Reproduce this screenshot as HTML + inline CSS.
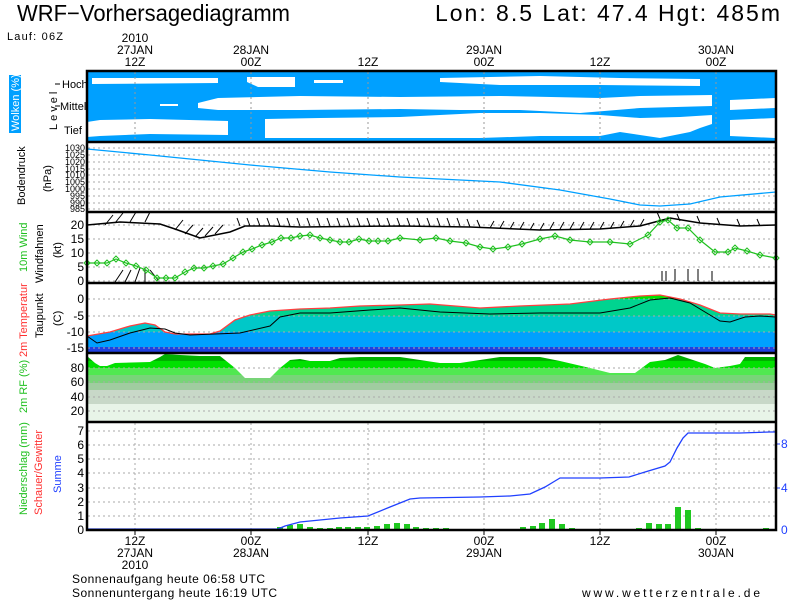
<!DOCTYPE html>
<html><head><meta charset="utf-8"><style>
html,body{margin:0;padding:0;background:#fff}
svg{display:block;font-family:"Liberation Sans",sans-serif}
</style></head><body>
<svg width="800" height="600" viewBox="0 0 800 600" xmlns="http://www.w3.org/2000/svg">
<rect width="800" height="600" fill="#fff"/>
<text x="17" y="21" font-size="23" textLength="273" lengthAdjust="spacingAndGlyphs">WRF−Vorhersagediagramm</text>
<text x="435" y="21" font-size="23" textLength="345" lengthAdjust="spacing">Lon: 8.5  Lat: 47.4  Hgt: 485m</text>
<text x="7" y="40" font-size="11" textLength="56">Lauf: 06Z</text>
<g font-size="12" text-anchor="middle">
<text x="135" y="42">2010</text><text x="135" y="54">27JAN</text><text x="135" y="66">12Z</text>
<text x="251" y="54">28JAN</text><text x="251" y="66">00Z</text>
<text x="368" y="66">12Z</text>
<text x="484" y="54">29JAN</text><text x="484" y="66">00Z</text>
<text x="600" y="66">12Z</text>
<text x="716" y="54">30JAN</text><text x="716" y="66">00Z</text>
</g>
<!-- Cloud panel -->
<rect x="87" y="71" width="689" height="70" fill="#00a0ff"/>
<g fill="#fff">
<path d="M92 78 L218 78 L218 83 L92 84Z"/>
<path d="M247 77 L295 77 L295 87 L258 87 L247 82Z"/>
<path d="M314 80 L343 80 L343 83 L314 83Z"/>
<path d="M440 78 L540 76 L620 78 L700 79 L700 86 L600 85 L500 85 L440 82Z"/>
<path d="M160 104 L178 104 L178 106 L160 106Z"/>
<path d="M198 103 L218 98 L300 96 L400 97 L500 96 L600 98 L640 96 L712 95 L712 106 L640 108 L580 113 L520 110 L460 110 L400 109 L300 110 L218 110 L198 108Z"/>
<path d="M87 122 L100 120 L150 119 L228 121 L228 135 L150 134 L100 136 L87 137Z"/>
<path d="M265 119 L320 118 L400 117 L480 113 L540 113 L600 115 L640 118 L680 117 L712 115 L712 124 L700 128 L690 132 L660 138 L620 132 L600 136 L540 136 L480 138 L400 138 L265 138Z"/>
<path d="M730 100 L775 98 L775 108 L730 110Z"/>
<path d="M730 120 L775 118 L775 138 L730 136Z"/>
</g>
<rect x="87" y="138" width="689" height="3" fill="#00a0ff"/>
<g stroke="#999" stroke-dasharray="2,3" stroke-width="1">
<line x1="135" y1="72" x2="135" y2="140"/><line x1="251" y1="72" x2="251" y2="140"/><line x1="368" y1="72" x2="368" y2="140"/><line x1="484" y1="72" x2="484" y2="140"/><line x1="600" y1="72" x2="600" y2="140"/><line x1="716" y1="72" x2="716" y2="140"/>
</g>
<rect x="9" y="75" width="12" height="58" fill="#00a0ff"/>
<text transform="translate(19,131) rotate(-90)" font-size="11" fill="#fff">Wolken (%)</text>
<text transform="translate(57,130) rotate(-90)" font-size="11" letter-spacing="3">Level</text>
<g font-size="11"><text x="62" y="88">Hoch</text><text x="60" y="110">Mittel</text><text x="64" y="134">Tief</text></g>
<g stroke="#000"><line x1="55" y1="84" x2="60" y2="84"/><line x1="55" y1="106" x2="60" y2="106"/></g>
<!-- Pressure panel -->
<g stroke="#aaa" stroke-dasharray="2,3">
<line x1="88" y1="148" x2="775" y2="148"/><line x1="88" y1="155" x2="775" y2="155"/><line x1="88" y1="162" x2="775" y2="162"/><line x1="88" y1="169" x2="775" y2="169"/><line x1="88" y1="175" x2="775" y2="175"/><line x1="88" y1="182" x2="775" y2="182"/><line x1="88" y1="189" x2="775" y2="189"/><line x1="88" y1="196" x2="775" y2="196"/><line x1="88" y1="203" x2="775" y2="203"/><line x1="88" y1="209" x2="775" y2="209"/>
</g>
<polyline fill="none" stroke="#00a0ff" stroke-width="1.3" points="87,149 150,155 250,165 330,172 400,177 500,182 560,190 610,199 640,205 660,206 690,204 720,197 776,192"/>
<g font-size="9" text-anchor="end">
<text x="85" y="151">1030</text><text x="85" y="158">1025</text><text x="85" y="165">1020</text><text x="85" y="172">1015</text><text x="85" y="178">1010</text><text x="85" y="185">1005</text><text x="85" y="192">1000</text><text x="85" y="199">995</text><text x="85" y="206">990</text><text x="85" y="212">985</text>
</g>
<text transform="translate(25,205) rotate(-90)" font-size="11">Bodendruck</text>
<text transform="translate(51,192) rotate(-90)" font-size="11">(hPa)</text>
<!-- Wind panel -->
<g stroke="#aaa" stroke-dasharray="2,3">
<line x1="88" y1="225" x2="775" y2="225"/><line x1="88" y1="239" x2="775" y2="239"/><line x1="88" y1="253" x2="775" y2="253"/><line x1="88" y1="267" x2="775" y2="267"/><line x1="88" y1="281" x2="775" y2="281"/>
</g>
<polyline fill="none" stroke="#000" stroke-width="1.5" points="87,225 120,222 160,224 175,229 200,238 230,232 245,226 270,226 300,227 400,226 470,227 540,230 600,229 640,226 655,222 670,218 700,223 740,226 776,225"/>
<g stroke="#000" stroke-width="1">
<path d="M240 226 l-3 -8 M250 226 l-3 -8 M260 226 l-3 -8 M270 226 l-3 -8 M280 226 l-3 -8 M290 226 l-3 -8 M300 226 l-3 -8 M310 226 l-3 -8 M320 226 l-3 -8 M330 226 l-3 -8 M340 226 l-3 -8 M350 226 l-3 -8 M360 226 l-3 -8 M370 226 l-3 -8 M380 226 l-3 -8 M390 226 l-3 -8 M400 226 l-3 -8 M410 226 l-3 -8 M420 226 l-3 -8 M430 226 l-3 -8 M440 226 l-3 -8 M450 226 l-3 -8 M460 226 l-3 -8 M470 227 l-3 -8 M480 227 l-3 -7 M490 228 l4 -7 M500 228 l4 -7 M510 229 l4 -7 M520 229 l4 -7 M530 230 l4 -7 M540 230 l4 -7 M550 229 l4 -7 M560 229 l4 -7 M570 229 l4 -7 M580 229 l4 -7 M590 229 l4 -7 M600 229 l4 -7 M610 229 l4 -7 M620 228 l4 -7 M630 227 l4 -7 M640 226 l4 -7 M660 219 l-3 -7 M680 221 l-3 -7 M700 223 l-3 -7 M720 225 l-3 -7 M740 226 l-3 -7 M760 226 l-3 -7"/>
<path d="M105 225 l8 -10 M115 223 l8 -10 M130 222 l6 -10 M145 222 l5 -10 M175 230 l8 -10 M185 234 l8 -9 M195 237 l8 -9 M205 236 l8 -9 M215 234 l8 -9"/>
<path d="M115 282 l8 -12 M125 282 l6 -12 M135 282 l5 -14 M145 282 l0 -14 M150 270 l8 10 M662 281 l0 -10 M666 281 l0 -10 M675 281 l0 -12 M688 281 l0 -12 M698 281 l0 -12 M712 281 l0 -10"/>
</g>
<polyline fill="none" stroke="#20c020" stroke-width="1.2" points="87,263 97,263 107,263 116,259 126,263 136,266 146,270 157,278 166,278 175,278 185,272 194,268 204,268 213,266 223,264 233,258 243,252 252,249 262,245 272,242 281,238 291,238 300,236 310,235 320,238 330,240 340,242 349,242 359,239 369,241 378,241 388,241 400,238 420,240 436,238 450,241 466,243 480,247 493,249 508,247 522,244 540,239 555,236 570,240 590,242 610,242 630,244 648,235 660,222 668,220 677,228 688,228 700,240 715,252 728,252 735,248 747,251 760,255 776,258"/>
<g fill="none" stroke="#20c020">
<path d="M87 260 l3 3 -3 3 -3 -3z M97 260 l3 3 -3 3 -3 -3z M107 260 l3 3 -3 3 -3 -3z M116 256 l3 3 -3 3 -3 -3z M126 260 l3 3 -3 3 -3 -3z M136 263 l3 3 -3 3 -3 -3z M146 267 l3 3 -3 3 -3 -3z M157 275 l3 3 -3 3 -3 -3z M166 275 l3 3 -3 3 -3 -3z M175 275 l3 3 -3 3 -3 -3z M185 269 l3 3 -3 3 -3 -3z M194 265 l3 3 -3 3 -3 -3z M204 265 l3 3 -3 3 -3 -3z M213 263 l3 3 -3 3 -3 -3z M223 261 l3 3 -3 3 -3 -3z M233 255 l3 3 -3 3 -3 -3z M243 249 l3 3 -3 3 -3 -3z M252 246 l3 3 -3 3 -3 -3z M262 242 l3 3 -3 3 -3 -3z M272 239 l3 3 -3 3 -3 -3z M281 235 l3 3 -3 3 -3 -3z M291 235 l3 3 -3 3 -3 -3z M300 233 l3 3 -3 3 -3 -3z M310 232 l3 3 -3 3 -3 -3z M320 235 l3 3 -3 3 -3 -3z M330 237 l3 3 -3 3 -3 -3z M340 239 l3 3 -3 3 -3 -3z M349 239 l3 3 -3 3 -3 -3z M359 236 l3 3 -3 3 -3 -3z M369 238 l3 3 -3 3 -3 -3z M378 238 l3 3 -3 3 -3 -3z M388 238 l3 3 -3 3 -3 -3z M400 235 l3 3 -3 3 -3 -3z"/>
<path d="M420 237 l3 3 -3 3 -3 -3z M436 235 l3 3 -3 3 -3 -3z M450 238 l3 3 -3 3 -3 -3z M466 240 l3 3 -3 3 -3 -3z M480 244 l3 3 -3 3 -3 -3z M493 246 l3 3 -3 3 -3 -3z M508 244 l3 3 -3 3 -3 -3z M522 241 l3 3 -3 3 -3 -3z M540 236 l3 3 -3 3 -3 -3z M555 233 l3 3 -3 3 -3 -3z M570 237 l3 3 -3 3 -3 -3z M590 239 l3 3 -3 3 -3 -3z M610 239 l3 3 -3 3 -3 -3z M630 241 l3 3 -3 3 -3 -3z M648 232 l3 3 -3 3 -3 -3z M660 219 l3 3 -3 3 -3 -3z M668 217 l3 3 -3 3 -3 -3z M677 225 l3 3 -3 3 -3 -3z M688 225 l3 3 -3 3 -3 -3z M700 237 l3 3 -3 3 -3 -3z M715 249 l3 3 -3 3 -3 -3z M728 249 l3 3 -3 3 -3 -3z M735 245 l3 3 -3 3 -3 -3z M747 248 l3 3 -3 3 -3 -3z M760 252 l3 3 -3 3 -3 -3z M776 255 l3 3 -3 3 -3 -3z"/>
</g>
<g font-size="12" text-anchor="end">
<text x="84" y="229">20</text><text x="84" y="243">15</text><text x="84" y="257">10</text><text x="84" y="271">5</text><text x="84" y="285">0</text>
</g>
<text transform="translate(27,272) rotate(-90)" font-size="11" fill="#20c020">10m Wind</text>
<text transform="translate(43,283) rotate(-90)" font-size="11">Windfahnen</text>
<text transform="translate(61,258) rotate(-90)" font-size="11">(kt)</text>
<!-- Temp panel -->
<defs>
<clipPath id="tc"><polygon points="87,336 110,332 130,326 145,323 155,325 165,332 175,334 210,334 220,331 235,320 250,315 270,311 300,309 330,308 360,306 400,305 430,304 480,308 520,306 570,304 610,299 640,296 660,295 680,299 700,305 720,313 740,314 770,314 776,315 776,352 87,352"/></clipPath>
<clipPath id="rc"><polygon points="87,356 95,363 100,366 107,366 115,363 150,362 160,357 165,354 180,355 200,356 220,356 235,368 245,378 270,378 280,368 290,360 300,359 310,361 330,361 340,358 360,357 390,357 400,357 420,360 440,363 460,363 480,360 500,357 540,357 560,361 590,368 610,373 635,373 650,362 665,360 678,355 690,359 705,364 715,368 730,366 740,364 745,357 776,357 776,421 87,421"/></clipPath>
</defs>
<g clip-path="url(#tc)">
<rect x="87" y="284" width="689" height="15" fill="#00e000"/>
<rect x="87" y="299" width="689" height="17" fill="#00d490"/>
<rect x="87" y="316" width="689" height="16" fill="#00c8c8"/>
<rect x="87" y="332" width="689" height="15" fill="#00a0ff"/>
<rect x="87" y="347" width="689" height="6" fill="#2040e0"/>
</g>
<g stroke="#aaa" stroke-dasharray="2,3">
<line x1="88" y1="299" x2="775" y2="299"/><line x1="88" y1="316" x2="775" y2="316"/><line x1="88" y1="332" x2="775" y2="332"/><line x1="88" y1="348" x2="775" y2="348"/>
</g>
<polyline fill="none" stroke="#ff4040" stroke-width="1.3" points="87,336 110,332 130,326 145,323 155,325 165,332 175,334 210,334 220,331 235,320 250,315 270,311 300,309 330,308 360,306 400,305 430,304 480,308 520,306 570,304 610,299 640,296 660,295 680,299 700,305 720,313 740,314 770,314 776,315"/>
<polyline fill="none" stroke="#000" stroke-width="1" points="87,336 97,343 110,340 130,333 150,328 165,329 175,333 190,335 240,333 270,326 280,317 300,313 330,313 370,310 400,308 440,312 490,314 540,313 600,313 630,308 650,300 670,298 690,303 710,315 720,321 730,322 745,317 760,316 776,317"/>
<g font-size="12" text-anchor="end">
<text x="84" y="303">0</text><text x="84" y="320">-5</text><text x="84" y="336">-10</text><text x="84" y="352">-15</text>
</g>
<text transform="translate(27,357) rotate(-90)" font-size="11" fill="#ff3030">2m Temperatur</text>
<text transform="translate(43,338) rotate(-90)" font-size="11">Taupunkt</text>
<text transform="translate(61,326) rotate(-90)" font-size="11">(C)</text>
<!-- RH panel -->
<g clip-path="url(#rc)">
<rect x="87" y="352" width="689" height="9" fill="#00b000"/>
<rect x="87" y="361" width="689" height="7" fill="#00e000"/>
<rect x="87" y="368" width="689" height="7" fill="#50e850"/>
<rect x="87" y="375" width="689" height="8" fill="#78d478"/>
<rect x="87" y="383" width="689" height="7" fill="#a0cca0"/>
<rect x="87" y="390" width="689" height="14" fill="#c8d8c8"/>
<rect x="87" y="404" width="689" height="18" fill="#e8f4e8"/>
</g>
<g stroke="#aaa" stroke-dasharray="2,3">
<line x1="88" y1="368" x2="775" y2="368"/><line x1="88" y1="382" x2="775" y2="382"/><line x1="88" y1="397" x2="775" y2="397"/><line x1="88" y1="411" x2="775" y2="411"/>
</g>
<g font-size="12" text-anchor="end">
<text x="84" y="372">80</text><text x="84" y="386">60</text><text x="84" y="401">40</text><text x="84" y="415">20</text>
</g>
<text transform="translate(27,413) rotate(-90)" font-size="11" fill="#20c020">2m RF (%)</text>
<!-- Precip panel -->
<g stroke="#aaa" stroke-dasharray="2,3">
<line x1="88" y1="431" x2="775" y2="431"/><line x1="88" y1="445" x2="775" y2="445"/><line x1="88" y1="459" x2="775" y2="459"/><line x1="88" y1="473" x2="775" y2="473"/><line x1="88" y1="488" x2="775" y2="488"/><line x1="88" y1="502" x2="775" y2="502"/><line x1="88" y1="516" x2="775" y2="516"/>
<line x1="135" y1="423" x2="135" y2="529"/><line x1="251" y1="423" x2="251" y2="529"/><line x1="368" y1="423" x2="368" y2="529"/><line x1="484" y1="423" x2="484" y2="529"/><line x1="600" y1="423" x2="600" y2="529"/><line x1="716" y1="423" x2="716" y2="529"/>
</g>
<g fill="#20c820">
<rect x="277" y="527" width="6" height="3"/><rect x="287" y="525" width="6" height="5"/><rect x="297" y="524" width="6" height="6"/><rect x="307" y="527" width="6" height="3"/><rect x="317" y="528" width="6" height="2"/><rect x="327" y="528" width="6" height="2"/><rect x="336" y="527" width="6" height="3"/><rect x="345" y="527" width="6" height="3"/><rect x="355" y="527" width="6" height="3"/><rect x="364" y="527" width="6" height="3"/><rect x="374" y="526" width="6" height="4"/><rect x="384" y="524" width="6" height="6"/><rect x="394" y="523" width="6" height="7"/><rect x="404" y="524" width="6" height="6"/><rect x="413" y="527" width="6" height="3"/><rect x="423" y="528" width="6" height="2"/><rect x="433" y="528" width="6" height="2"/><rect x="443" y="528" width="6" height="2"/>
<rect x="520" y="527" width="6" height="3"/><rect x="530" y="526" width="6" height="4"/><rect x="539" y="523" width="6" height="7"/><rect x="549" y="519" width="6" height="11"/><rect x="559" y="524" width="6" height="6"/><rect x="569" y="528" width="6" height="2"/>
<rect x="636" y="528" width="6" height="2"/><rect x="646" y="523" width="6" height="7"/><rect x="656" y="524" width="6" height="6"/><rect x="665" y="524" width="6" height="6"/><rect x="675" y="507" width="6" height="23"/><rect x="685" y="510" width="6" height="20"/><rect x="695" y="528" width="6" height="2"/><rect x="763" y="528" width="6" height="2"/>
</g>
<polyline fill="none" stroke="#2040ff" stroke-width="1.3" points="87,529 278,529 285,526 300,522 340,518 368,516 390,507 410,499 420,498 480,497 510,496 530,494 545,487 555,481 560,478 600,478 629,477 645,472 665,466 670,462 677,448 683,438 688,433 700,433 740,433 770,432 776,432"/>
<g font-size="12" text-anchor="end">
<text x="84" y="435">7</text><text x="84" y="449">6</text><text x="84" y="463">5</text><text x="84" y="477">4</text><text x="84" y="492">3</text><text x="84" y="506">2</text><text x="84" y="520">1</text><text x="84" y="534">0</text>
</g>
<g font-size="12" fill="#2040ff"><text x="781" y="448">8</text><text x="781" y="492">4</text><text x="781" y="534">0</text></g>
<g stroke="#2040ff"><line x1="776" y1="444" x2="780" y2="444"/><line x1="776" y1="488" x2="780" y2="488"/></g>
<text transform="translate(27,515) rotate(-90)" font-size="11" fill="#20c020">Niederschlag (mm)</text>
<text transform="translate(42,515) rotate(-90)" font-size="11" fill="#ff3030">Schauer/Gewitter</text>
<text transform="translate(61,493) rotate(-90)" font-size="11" fill="#2040ff">Summe</text>
<!-- Panel borders -->
<g fill="none" stroke="#000" stroke-width="2.5">
<rect x="87" y="71" width="689" height="459"/>
<line x1="87" y1="142" x2="776" y2="142"/><line x1="87" y1="212" x2="776" y2="212"/><line x1="87" y1="283" x2="776" y2="283"/><line x1="87" y1="353" x2="776" y2="353"/><line x1="87" y1="422" x2="776" y2="422"/>
</g>
<g stroke="#000"><line x1="135" y1="530" x2="135" y2="535"/><line x1="251" y1="530" x2="251" y2="535"/><line x1="368" y1="530" x2="368" y2="535"/><line x1="484" y1="530" x2="484" y2="535"/><line x1="600" y1="530" x2="600" y2="535"/><line x1="716" y1="530" x2="716" y2="535"/></g>
<g font-size="12" text-anchor="middle">
<text x="135" y="545">12Z</text><text x="135" y="557">27JAN</text><text x="135" y="569">2010</text>
<text x="251" y="545">00Z</text><text x="251" y="557">28JAN</text>
<text x="368" y="545">12Z</text>
<text x="484" y="545">00Z</text><text x="484" y="557">29JAN</text>
<text x="600" y="545">12Z</text>
<text x="716" y="545">00Z</text><text x="716" y="557">30JAN</text>
</g>
<text x="72" y="583" font-size="12" textLength="193">Sonnenaufgang heute 06:58 UTC</text>
<text x="72" y="597" font-size="12" textLength="205">Sonnenuntergang heute 16:19 UTC</text>
<text x="582" y="597" font-size="12" textLength="178">www.wetterzentrale.de</text>
</svg>
</body></html>
